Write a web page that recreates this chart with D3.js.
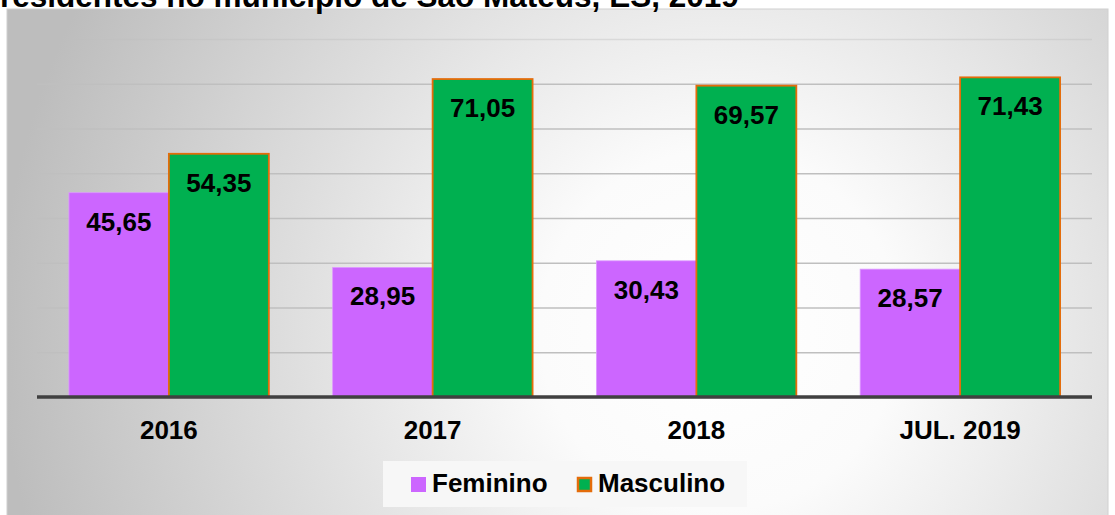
<!DOCTYPE html>
<html>
<head>
<meta charset="utf-8">
<script src="https://cdn.jsdelivr.net/npm/d3@7"></script>
<style>
  body { margin: 0; background: #fff; }
  text { font-family: "Liberation Sans", Arial, sans-serif; font-weight: bold; fill: #000; }
</style>
</head>
<body>
<div id="viz"></div>
<script>
// data
const categories = ["2016", "2017", "2018", "JUL. 2019"];
const series = ["Feminino", "Masculino"];
const feminino = [45.65, 28.95, 30.43, 28.57];
const masculino = [54.35, 71.05, 69.57, 71.43];
const yTicks = [0, 10, 20, 30, 40, 50, 60, 70, 80];
const titleText = "residentes no município de São Mateus, ES, 2019";

const colors = { Feminino: "#CC66FF", Masculino: "#00B050" };
const fmt = v => d3.format(".2f")(v).replace(".", ",");

const W = 1115, H = 515;
const svg = d3.select("#viz")
    .append("svg")
    .attr("width", W)
    .attr("height", H);

// background gradient of the chart area
const defs = svg.append("defs");
const grad = defs.append("radialGradient")
    .attr("id", "bg")
    .attr("gradientUnits", "userSpaceOnUse")
    .attr("cx", 720).attr("cy", 330).attr("r", 720);
grad.append("stop").attr("offset", "0").attr("stop-color", "#ffffff");
grad.append("stop").attr("offset", "0.25").attr("stop-color", "#fbfbfb");
grad.append("stop").attr("offset", "1").attr("stop-color", "#bdbdbd");

svg.append("rect")
    .attr("x", 7).attr("y", 9)
    .attr("width", 1101).attr("height", 510)
    .attr("fill", "url(#bg)")
    .attr("stroke", "#d0d0d0")
    .attr("stroke-width", 1);

// title, cut off at the top edge as in the reference
svg.append("text")
    .attr("x", 0)
    .attr("y", 7)
    .attr("font-size", 31.5)
    .text(titleText);

// scales
const x0 = d3.scaleBand()
    .domain(categories)
    .range([37, 1092])
    .paddingInner(0.242)
    .paddingOuter(0.121);

const x1 = d3.scaleBand()
    .domain(series)
    .range([0, x0.bandwidth()]);

const y = d3.scaleLinear()
    .domain([0, 80])
    .range([397, 39]);

// gridlines
const yAxis = d3.axisLeft(y).tickValues(yTicks).tickSize(-(1092 - 37)).tickFormat("");
const gy = svg.append("g")
    .attr("transform", "translate(37,0)")
    .call(yAxis);
gy.select(".domain").remove();
gy.selectAll(".tick line")
    .attr("stroke", "#bfbfbf")
    .attr("stroke-width", 1.5)
    .attr("stroke-opacity", d => d === 80 ? 0.4 : 1);

// bars
const rows = categories.map((c, i) => ({ cat: c, vals: [
    { key: "Feminino", value: feminino[i] },
    { key: "Masculino", value: masculino[i] }
]}));

const groups = svg.append("g")
    .selectAll("g")
    .data(rows)
    .join("g")
    .attr("transform", d => `translate(${x0(d.cat)},0)`);

groups.selectAll("rect")
    .data(d => d.vals)
    .join("rect")
    .attr("x", d => x1(d.key))
    .attr("y", d => y(d.value))
    .attr("width", x1.bandwidth())
    .attr("height", d => y(0) - y(d.value))
    .attr("fill", d => colors[d.key])
    .attr("stroke", d => d.key === "Masculino" ? "#E46C0A" : "#dd99ff")
    .attr("stroke-width", d => d.key === "Masculino" ? 1.8 : 0.8);

groups.selectAll("text")
    .data(d => d.vals)
    .join("text")
    .attr("x", d => x1(d.key) + x1.bandwidth() / 2)
    .attr("y", d => y(d.value) + 38)
    .attr("text-anchor", "middle")
    .attr("font-size", 26)
    .text(d => fmt(d.value));

// x axis baseline and labels
const xAxis = d3.axisBottom(x0).tickSize(0).tickPadding(0);
const gx = svg.append("g")
    .attr("transform", `translate(0,${y(0)})`)
    .call(xAxis);
gx.select(".domain").remove();
gx.selectAll(".tick text")
    .attr("dy", 0)
    .attr("y", 42)
    .attr("font-size", 26)
    .attr("font-family", "Liberation Sans, Arial, sans-serif")
    .attr("font-weight", "bold")
    .attr("fill", "#000");

svg.append("line")
    .attr("x1", 37).attr("x2", 1092)
    .attr("y1", y(0)).attr("y2", y(0))
    .attr("stroke", "#404040")
    .attr("stroke-width", 3.5);

// legend
const legend = svg.append("g");
legend.append("rect")
    .attr("x", 383).attr("y", 461)
    .attr("width", 364).attr("height", 46)
    .attr("fill", "#f7f7f7");

const legendX = { Feminino: 411, Masculino: 577 };
const items = legend.selectAll("g")
    .data(series)
    .join("g")
    .attr("transform", d => `translate(${legendX[d]},477)`);
items.append("rect")
    .attr("x", d => d === "Masculino" ? 1 : 0)
    .attr("y", d => d === "Masculino" ? 1 : 0)
    .attr("width", d => d === "Masculino" ? 13 : 15)
    .attr("height", d => d === "Masculino" ? 13 : 15)
    .attr("fill", d => colors[d])
    .attr("stroke", d => d === "Masculino" ? "#E46C0A" : "none")
    .attr("stroke-width", 2.5);
items.append("text")
    .attr("x", 21)
    .attr("y", 15)
    .attr("font-size", 26)
    .text(d => d);
</script>
</body>
</html>
